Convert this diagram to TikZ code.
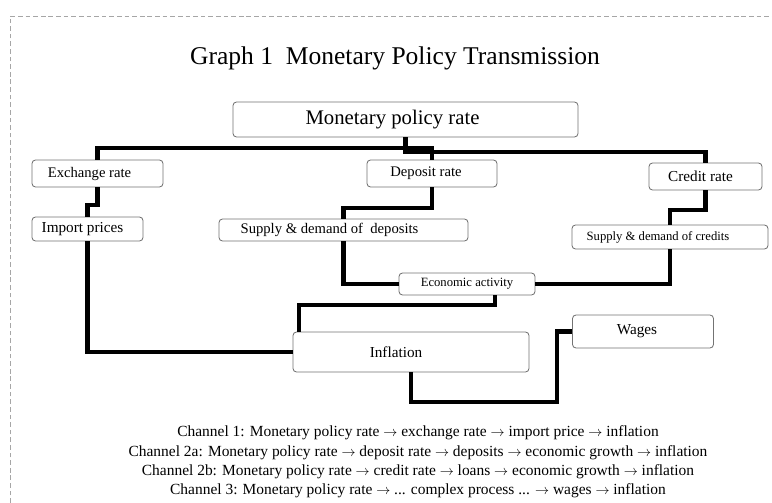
\documentclass[tikz,border=0pt]{standalone}
\usepackage{fontspec}
\setmainfont{Liberation Serif}
\usetikzlibrary{calc}

\begin{document}
\begin{tikzpicture}[x=0.03cm, y=-0.03cm,
    box/.style={draw=black!55, line width=0.7pt, rounded corners=3pt, fill=white, inner sep=0pt, font=\fontsize{12.5}{14}\selectfont},
    small/.style={font=\fontsize{10.8}{12}\selectfont},
    big/.style={font=\fontsize{13}{15}\selectfont},
    link/.style={line width=3.5pt, black}]
\useasboundingbox (0,0) rectangle (772,503);

% Dashed frame
\draw[black!35, line width=0.8pt, dash pattern=on 4pt off 2.5pt] (10,503) -- (10,16) -- (772,16);

% Title
\node[font=\fontsize{21.8}{26}\selectfont] (title) at (395,58) {Graph 1~~Monetary Policy Transmission};

% Boxes (trailing space pushes the text a little to the left)
\node[box, minimum width=10.35cm, minimum height=1.05cm, font=\fontsize{17.7}{20}\selectfont] (mpr) at (405.5,119.5) {Monetary policy rate\hspace*{0.78cm}};
\node[box, minimum width=3.93cm, minimum height=0.81cm] (exch) at (97.5,173.5) {Exchange rate\hspace*{0.48cm}};
\node[box, minimum width=3.9cm, minimum height=0.81cm] (dep) at (432,173.5) {Deposit rate\hspace*{0.36cm}};
\node[box, minimum width=3.39cm, minimum height=0.81cm, big] (cred) at (705.5,176.5) {Credit rate\hspace*{0.3cm}};
\node[box, minimum width=3.33cm, minimum height=0.72cm, big] (imp) at (87.5,229) {Import prices\hspace*{0.3cm}};
\node[box, minimum width=7.47cm, minimum height=0.66cm] (sdd) at (343.5,230) {Supply \& demand of~~deposits\hspace*{0.84cm}};
\node[box, minimum width=5.88cm, minimum height=0.72cm, small] (sdc) at (670,237) {Supply \& demand of credits\hspace*{0.72cm}};
\node[box, minimum width=4.08cm, minimum height=0.66cm, small] (econ) at (467,284) {Economic activity};
\node[box, minimum width=7.08cm, minimum height=1.2cm, big] (infl) at (411,352) {Inflation\hspace*{0.9cm}};
\node[box, minimum width=4.23cm, minimum height=0.99cm, big] (wage) at (643,331.5) {Wages\hspace*{0.36cm}};

% Connectors
\draw[link] (mpr.south) -- ++(0,15) -| (cred.north);
\draw[link] (exch.north) -- ++(0,-12) -| (dep.north);
\draw[link] (exch.south) -- ++(0,18) -| (imp.north);
\draw[link] (dep.south) -- ++(0,21) -| (sdd.north);
\draw[link] (sdd.south) |- (econ.west);
\draw[link] (cred.south) -- ++(0,20) -| (sdc.north);
\draw[link] (sdc.south) |- (econ.east);
\draw[link] ($(econ.south)+(28,0)$) -- ++(0,10) -| ($(infl.north west)+(6,0)$);
\draw[link] (imp.south) |- (infl.west);
\draw[link] (infl.south) -- ++(0,30) -| ($(wage.west)+(-15,0)$) -- (wage.west);

% Channels
\node[align=center, font=\fontsize{13.2}{16.5}\selectfont] (chan) at (418,462) {%
Channel 1: Monetary policy rate $\rightarrow$ exchange rate $\rightarrow$ import price $\rightarrow$ inflation\\
Channel 2a: Monetary policy rate $\rightarrow$ deposit rate $\rightarrow$ deposits $\rightarrow$ economic growth $\rightarrow$ inflation\\
Channel 2b: Monetary policy rate $\rightarrow$ credit rate $\rightarrow$ loans $\rightarrow$ economic growth $\rightarrow$ inflation\\
Channel 3: Monetary policy rate $\rightarrow$ ... complex process ... $\rightarrow$ wages $\rightarrow$ inflation};
\end{tikzpicture}
\end{document}
